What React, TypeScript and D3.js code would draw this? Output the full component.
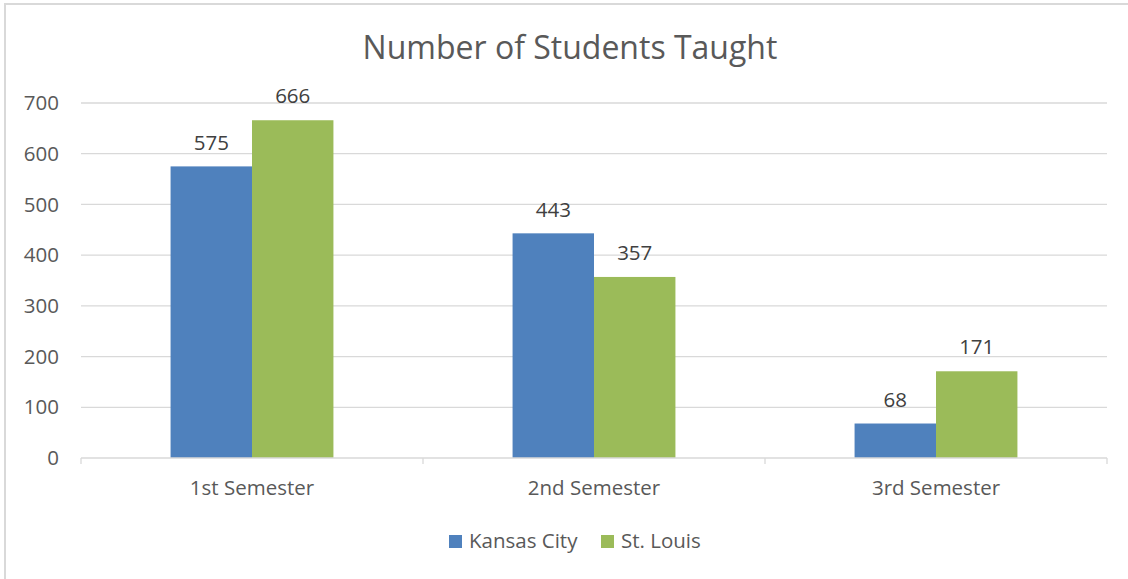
import React, { useEffect, useRef } from "react";
import * as d3 from "d3";

const categories = ["1st Semester", "2nd Semester", "3rd Semester"];
const seriesNames = ["Kansas City", "St. Louis"];
const kansasCity = [575, 443, 68];
const stLouis = [666, 357, 171];
const yTicks = [0, 100, 200, 300, 400, 500, 600, 700];
const colors = ["#4F81BD", "#9BBB59"];

const W = 1128;
const H = 579;
const FONT = "'Open Sans', sans-serif";
const FS = "20.5px";

const App = () => {
  const ref = useRef<SVGSVGElement | null>(null);

  useEffect(() => {
    const svg = d3.select(ref.current);
    svg.selectAll("*").remove();

    const left = 81, right = 1107, top = 103, bottom = 458;

    // outer chart frame (runs off the right/bottom edge)
    svg.append("rect")
      .attr("x", 5).attr("y", 4)
      .attr("width", W + 20).attr("height", H + 20)
      .attr("fill", "#fff")
      .attr("stroke", "#d9d9d9").attr("stroke-width", 2);

    const x = d3.scaleBand().domain(categories).range([left, right]);
    const inner = d3.scaleBand().domain(seriesNames).range([0, x.bandwidth()]).paddingOuter(1.1);
    const y = d3.scaleLinear().domain([0, 700]).range([bottom, top]);

    // gridlines
    svg.append("g")
      .selectAll("line")
      .data(yTicks.filter((t) => t > 0))
      .enter()
      .append("line")
      .attr("x1", left).attr("x2", right)
      .attr("y1", (d) => y(d)).attr("y2", (d) => y(d))
      .attr("stroke", "#d9d9d9").attr("stroke-width", 1.3);

    // y labels
    svg.append("g")
      .selectAll("text")
      .data(yTicks)
      .enter()
      .append("text")
      .attr("x", 59)
      .attr("y", (d) => y(d))
      .attr("dy", "0.35em")
      .attr("text-anchor", "end")
      .style("font-family", FONT)
      .style("font-size", FS)
      .attr("fill", "#595959")
      .text((d) => d);

    // bars
    const series = [kansasCity, stLouis];
    const groups = svg.append("g")
      .selectAll("g")
      .data(categories)
      .enter()
      .append("g")
      .attr("transform", (d) => `translate(${x(d)},0)`);

    groups.selectAll("rect")
      .data((_, i) => seriesNames.map((s, j) => ({ s, v: series[j][i], j })))
      .enter()
      .append("rect")
      .attr("x", (d) => inner(d.s)!)
      .attr("width", inner.bandwidth())
      .attr("y", (d) => y(d.v))
      .attr("height", (d) => bottom - y(d.v))
      .attr("fill", (d) => colors[d.j]);

    groups.selectAll("text")
      .data((_, i) => seriesNames.map((s, j) => ({ s, v: series[j][i], j })))
      .enter()
      .append("text")
      .attr("x", (d) => inner(d.s)! + inner.bandwidth() / 2)
      .attr("y", (d) => y(d.v) - 24)
      .attr("dy", "0.35em")
      .attr("text-anchor", "middle")
      .style("font-family", FONT)
      .style("font-size", FS)
      .attr("fill", "#404040")
      .text((d) => d.v);

    // x axis
    svg.append("line")
      .attr("x1", left).attr("x2", right)
      .attr("y1", bottom).attr("y2", bottom)
      .attr("stroke", "#d9d9d9").attr("stroke-width", 1.3);
    const bounds = [left, ...categories.map((c) => x(c)! + x.bandwidth())];
    svg.append("g")
      .selectAll("line")
      .data(bounds)
      .enter()
      .append("line")
      .attr("x1", (d) => d).attr("x2", (d) => d)
      .attr("y1", bottom).attr("y2", bottom + 6)
      .attr("stroke", "#d9d9d9").attr("stroke-width", 1.3);

    svg.append("g")
      .selectAll("text")
      .data(categories)
      .enter()
      .append("text")
      .attr("x", (d) => x(d)! + x.bandwidth() / 2)
      .attr("y", 488)
      .attr("dy", "0.35em")
      .attr("text-anchor", "middle")
      .style("font-family", FONT)
      .style("font-size", FS)
      .attr("fill", "#595959")
      .text((d) => d);

    // title
    svg.append("text")
      .attr("x", 570).attr("y", 48)
      .attr("dy", "0.35em")
      .attr("text-anchor", "middle")
      .style("font-family", FONT)
      .style("font-size", "32px")
      .attr("fill", "#595959")
      .text("Number of Students Taught");

    // legend
    const legendX = [449, 601];
    seriesNames.forEach((s, i) => {
      svg.append("rect")
        .attr("x", legendX[i]).attr("y", 535)
        .attr("width", 13).attr("height", 13)
        .attr("fill", colors[i]);
      svg.append("text")
        .attr("x", legendX[i] + 20).attr("y", 541)
        .attr("dy", "0.35em")
        .style("font-family", FONT)
        .style("font-size", FS)
        .attr("fill", "#595959")
        .text(s);
    });
  }, []);

  return (
    <svg
      ref={ref}
      width={W}
      height={H}
      style={{ position: "fixed", left: 0, top: 0, background: "#fff" }}
    />
  );
};

export default App;
